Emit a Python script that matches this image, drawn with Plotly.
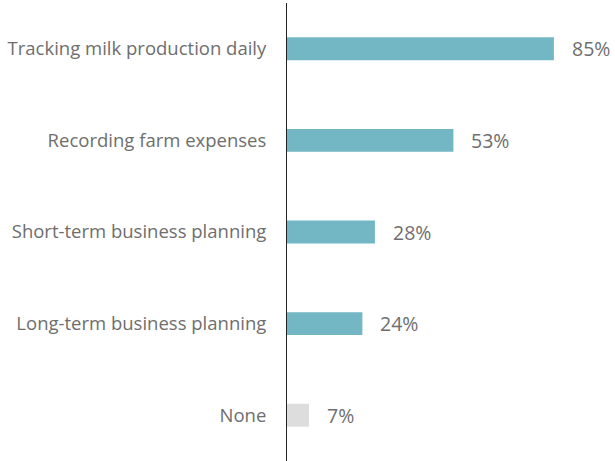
import plotly.graph_objects as go

categories = ["Tracking milk production daily", "Recording farm expenses",
              "Short-term business planning", "Long-term business planning", "None"]
values = [85, 53, 28, 24, 7]
colors = ["#73b7c4", "#73b7c4", "#73b7c4", "#73b7c4", "#dddddd"]
labels = [f"{v}%" for v in values]

fig = go.Figure(go.Bar(
    y=categories, x=values, orientation="h",
    marker=dict(color=colors, line=dict(width=0)),
    hoverinfo="skip",
))
for c, v, t in zip(categories, values, labels):
    fig.add_annotation(x=v, y=c, text=t, xanchor="left", showarrow=False,
                       xshift=16, font=dict(size=19.5, color="#6e6e6e", family="Open Sans"))

fig.update_layout(
    width=615, height=461,
    margin=dict(l=287, r=14, t=3, b=0),
    paper_bgcolor="white", plot_bgcolor="white",
    bargap=0.75, showlegend=False,
    font=dict(family="Open Sans", color="#6e6e6e", size=18),
)
fig.update_xaxes(range=[0, 100], visible=False)
fig.update_yaxes(autorange="reversed", showline=True, linecolor="#222222", linewidth=1,
                 ticks="", ticklabelstandoff=16, showgrid=False,
                 tickfont=dict(size=18.5, color="#6e6e6e", family="Open Sans"))
fig.write_html("out.html")
